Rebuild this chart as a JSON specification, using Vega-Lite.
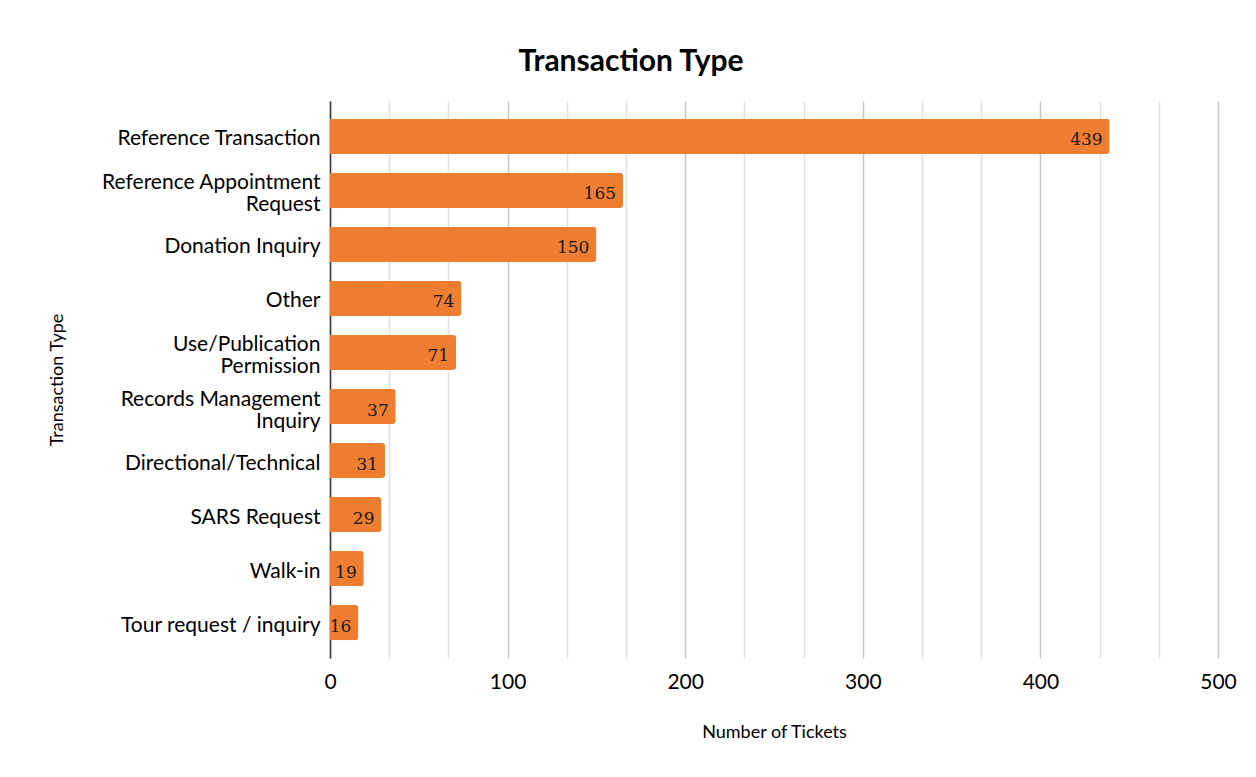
{
  "$schema": "https://vega.github.io/schema/vega-lite/v6.json",
  "width": 888,
  "height": 557,
  "autosize": {"type": "none"},
  "padding": {"left": 330, "top": 101, "right": 38, "bottom": 119},
  "background": "white",
  "title": {
    "text": "Transaction Type",
    "font": "Lato",
    "fontSize": 30,
    "fontWeight": "bold",
    "color": "#000000",
    "anchor": "middle",
    "dx": -143,
    "offset": 24
  },
  "data": {
    "values": [
      {"type": "Reference Transaction", "tickets": 439},
      {"type": "Reference Appointment Request", "tickets": 165},
      {"type": "Donation Inquiry", "tickets": 150},
      {"type": "Other", "tickets": 74},
      {"type": "Use/Publication Permission", "tickets": 71},
      {"type": "Records Management Inquiry", "tickets": 37},
      {"type": "Directional/Technical", "tickets": 31},
      {"type": "SARS Request", "tickets": 29},
      {"type": "Walk-in", "tickets": 19},
      {"type": "Tour request / inquiry", "tickets": 16}
    ]
  },
  "encoding": {
    "y": {
      "field": "type",
      "type": "nominal",
      "sort": "-x",
      "scale": {"paddingInner": 0.35, "paddingOuter": 0.33},
      "axis": {
        "title": "Transaction Type",
        "titleFont": "Lato",
        "titleFontSize": 18,
        "titleFontWeight": "normal",
        "titleColor": "#000000",
        "titlePadding": 64,
        "labelFont": "Lato",
        "labelFontSize": 21,
        "labelColor": "#000000",
        "labelPadding": 10,
        "labelLimit": 300,
        "labelLineHeight": 22,
        "labelBaseline": "middle",
        "labelOffset": {"condition": {"test": "datum.value == 'Reference Appointment Request' || datum.value == 'Use/Publication Permission' || datum.value == 'Records Management Inquiry'", "value": -7}, "value": 3},
        "labelExpr": "datum.label == 'Reference Appointment Request' ? ['Reference Appointment', 'Request'] : datum.label == 'Use/Publication Permission' ? ['Use/Publication', 'Permission'] : datum.label == 'Records Management Inquiry' ? ['Records Management', 'Inquiry'] : datum.label",
        "ticks": false,
        "grid": false,
        "domain": true,
        "domainColor": "#333333",
        "domainWidth": 1.5
      }
    },
    "x": {
      "field": "tickets",
      "type": "quantitative",
      "scale": {"domain": [0, 500], "nice": false},
      "axis": {
        "title": "Number of Tickets",
        "titleFont": "Lato",
        "titleFontSize": 18,
        "titleFontWeight": "normal",
        "titleColor": "#000000",
        "titlePadding": 31,
        "labelFont": "Lato",
        "labelFontSize": 21,
        "labelColor": "#000000",
        "labelPadding": 13,
        "labelFlush": false,
        "labelOverlap": false,
        "values": [0, 33.3333, 66.6667, 100, 133.3333, 166.6667, 200, 233.3333, 266.6667, 300, 333.3333, 366.6667, 400, 433.3333, 466.6667, 500],
        "labelExpr": "datum.value % 100 === 0 ? datum.label : ''",
        "ticks": false,
        "domain": false,
        "grid": true,
        "gridColor": {"condition": {"test": "datum.value % 100 === 0", "value": "#c6c6c6"}, "value": "#e2e2e2"},
        "gridWidth": 1.5
      }
    }
  },
  "layer": [
    {
      "mark": {"type": "bar", "color": "#ED7D31", "cornerRadiusEnd": 3}
    },
    {
      "mark": {"type": "text", "align": "right", "baseline": "middle", "dx": -7, "dy": 4, "font": "Georgia, 'DejaVu Serif', 'Liberation Serif', serif", "fontSize": 17, "color": "#1a1a1a"},
      "encoding": {"text": {"field": "tickets", "type": "quantitative"}}
    }
  ],
  "config": {"view": {"stroke": null}}
}
